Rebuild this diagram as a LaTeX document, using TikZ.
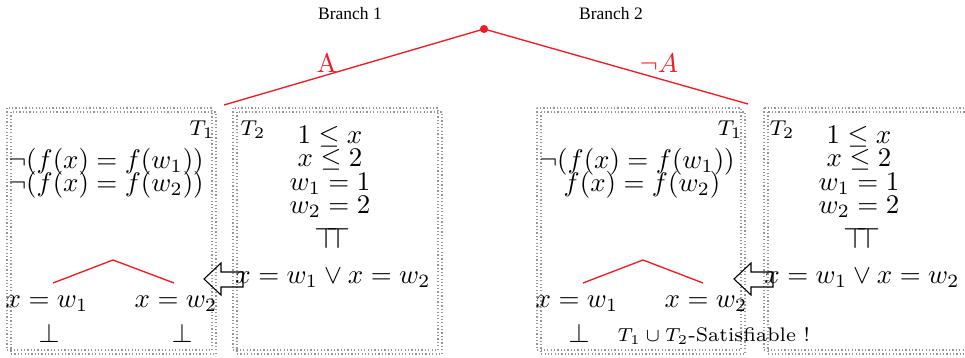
\documentclass[tikz,border=0pt]{standalone}
\usepackage{fontspec}
\usepackage{graphicx}
\newfontfamily\branchfont{Liberation Serif}
\definecolor{redline}{RGB}{237,28,36}
\definecolor{boxgray}{RGB}{150,150,150}
\tikzset{
  formula/.style={inner sep=0pt, font=\normalsize},
  tlabel/.style={inner sep=0pt, font=\footnotesize},
  satlabel/.style={inner sep=0pt, font=\fontsize{7.3}{9}\selectfont},
  blabel/.style={inner sep=0pt, font=\branchfont\fontsize{6.5}{7.5}\selectfont},
  edgelabel/.style={inner sep=0pt, text=redline, font=\normalsize},
  treeline/.style={draw=redline, line width=0.5pt},
  dotbox/.style={draw=boxgray, line width=0.45pt, dash pattern=on 0.45pt off 0.8pt},
  openarrow/.style={draw=black, line width=0.4pt, line join=miter},
  rootdot/.style={circle, fill=redline, inner sep=0pt, minimum size=3pt}
}
\newcommand{\toptop}{\scalebox{1.15}[1.1]{$\top\mkern-7mu\top$}}
\begin{document}
\begin{tikzpicture}[x=0.3717pt,y=-0.3717pt]
\useasboundingbox (0,0) rectangle (965,358);

% dotted boxes (double dotted border)
\draw[dotbox] (7,108) rectangle (212,350);
\draw[dotbox] (11,112) rectangle (216,354);
\draw[dotbox] (233,108) rectangle (438,350);
\draw[dotbox] (237,112) rectangle (442,354);
\draw[dotbox] (537,108) rectangle (741,350);
\draw[dotbox] (541,112) rectangle (745,354);
\draw[dotbox] (764,108) rectangle (970,350);
\draw[dotbox] (768,112) rectangle (974,354);

% top branching
\node[rootdot] (root) at (484,29) {};
\coordinate (bl) at (224,105);
\coordinate (br) at (748,104);
\draw[treeline] (root.center) -- (bl);
\draw[treeline] (root.center) -- (br);
\node[edgelabel] (la) at (327,63) {A};
\node[edgelabel] (lna) at (659,63) {$\neg A$};
\node[blabel] (b1) at (350,14) {Branch 1};
\node[blabel] (b2) at (611,14) {Branch 2};

% open arrows
\draw[openarrow] (204,279) -- (221,263) -- (221,272) -- (243,272) -- (243,287) -- (221,287) -- (221,295) -- cycle;
\draw[openarrow] (734,279) -- (751,263) -- (751,272) -- (773,272) -- (773,287) -- (751,287) -- (751,295) -- cycle;

% ---- Branch 1, T1
\node[tlabel] (l1t) at (202,130) {$T_1$};
\node[formula] (l1a) at (106,162) {$\neg(f(x) = f(w_1))$};
\node[formula] (l1b) at (106,185) {$\neg(f(x) = f(w_2))$};
\coordinate (l1top) at (113,260);
\coordinate (l1l) at (53,283);
\coordinate (l1r) at (174,283);
\draw[treeline] (l1l) -- (l1top) -- (l1r);
\node[formula] (l1x1) at (47,304) {$x = w_1$};
\node[formula] (l1x2) at (176,304) {$x = w_2$};
\node[formula] (l1bot1) at (49,333) {$\bot$};
\node[formula] (l1bot2) at (182,333) {$\bot$};

% ---- Branch 1, T2
\node[tlabel] (l2t) at (253,130) {$T_2$};
\node[formula] (l2a) at (330,137) {$1 \le x$};
\node[formula] (l2b) at (330,160) {$x \le 2$};
\node[formula] (l2c) at (330,184) {$w_1 = 1$};
\node[formula] (l2d) at (330,207) {$w_2 = 2$};
\node[formula] (l2e) at (333,238) {\toptop};
\node[formula] (l2f) at (333,278) {$x = w_1 \vee x = w_2$};

% ---- Branch 2, T1
\node[tlabel] (r1t) at (730,130) {$T_1$};
\node[formula] (r1a) at (637,162) {$\neg(f(x) = f(w_1))$};
\node[formula] (r1b) at (642,185) {$f(x) = f(w_2)$};
\coordinate (r1top) at (643,260);
\coordinate (r1l) at (583,283);
\coordinate (r1r) at (703,283);
\draw[treeline] (r1l) -- (r1top) -- (r1r);
\node[formula] (r1x1) at (577,304) {$x = w_1$};
\node[formula] (r1x2) at (706,304) {$x = w_2$};
\node[formula] (r1bot1) at (579,333) {$\bot$};
\node[satlabel, anchor=west] (sat) at (617,336) {$T_1 \cup T_2$-Satisfiable !};

% ---- Branch 2, T2
\node[tlabel] (r2t) at (782,130) {$T_2$};
\node[formula] (r2a) at (859,137) {$1 \le x$};
\node[formula] (r2b) at (859,160) {$x \le 2$};
\node[formula] (r2c) at (859,184) {$w_1 = 1$};
\node[formula] (r2d) at (859,207) {$w_2 = 2$};
\node[formula] (r2e) at (862,238) {\toptop};
\node[formula] (r2f) at (862,278) {$x = w_1 \vee x = w_2$};
\end{tikzpicture}
\end{document}
